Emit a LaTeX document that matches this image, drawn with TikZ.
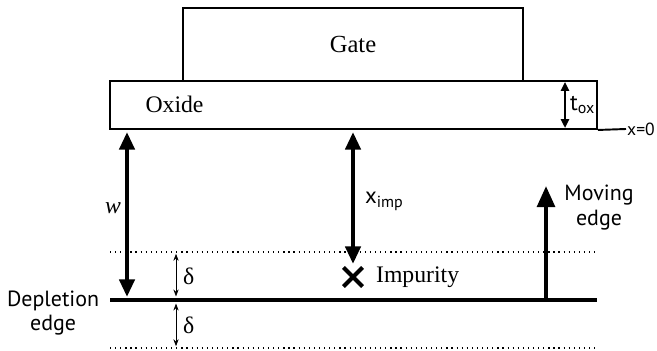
\documentclass[tikz,border=0pt]{standalone}
\usepackage{fontspec}
\setmainfont{Liberation Serif}
\newfontfamily\lab{PT Sans}
\usetikzlibrary{arrows.meta,positioning,shapes.misc}
\tikzset{
	layer/.style={draw,line width=1.1pt,inner sep=0pt},
	bigarrow/.style={line width=2.4pt,{Triangle[length=10pt,width=8.5pt]}-{Triangle[length=10pt,width=8.5pt]}},
	smallarrow/.style={line width=1.3pt,{Triangle[length=5pt,width=4.5pt]}-{Triangle[length=5pt,width=4.5pt]}},
	thinarrow/.style={line width=0.5pt,{Stealth[length=4pt,width=3pt]}-{Stealth[length=4pt,width=3pt]}},
	edgeline/.style={line width=2.2pt},
	dotline/.style={line width=0.7pt,dash pattern=on 0.7pt off 2.2pt},
	sanslabel/.style={font=\lab\fontsize{12.5}{14}\selectfont},
	seriflabel/.style={font=\fontsize{13.5}{15}\selectfont}
}

\begin{document}
\begin{tikzpicture}
			\useasboundingbox (0,0) rectangle (13.14,7.02);
			% gate and oxide
			\node[layer,minimum width=6.8cm,minimum height=1.46cm,font=\fontsize{14}{15}\selectfont] (gate) at (7.06,6.13) {Gate};
			\node[layer,minimum width=9.74cm,minimum height=0.96cm] (oxide) at (7.07,4.92) {};
			\node[seriflabel] (oxidelabel) at (3.49,4.94) {Oxide};
			% x=0
			\coordinate (xzero) at (12.52,4.44);
			\draw[line width=1.1pt] (oxide.south east) -- (xzero);
			\node[anchor=west,inner sep=0.5pt,font=\lab\fontsize{10}{11}\selectfont] (xzerolabel) at (xzero) {x=0};
			% oxide thickness
			\coordinate (toxtop) at (11.30,5.38);
			\coordinate (toxbot) at (11.30,4.46);
			\draw[smallarrow] (toxtop) -- (toxbot);
			\node[anchor=west,inner sep=1pt,font=\lab\fontsize{13}{14}\selectfont] (toxlabel) at (11.36,4.92) {t\textsubscript{ox}};
			% depletion edge and delta band
			\coordinate (depl) at (2.20,1.02);
			\coordinate (depr) at (11.94,1.02);
			\draw[edgeline] (depl) -- (depr);
			\coordinate (dotupl) at (2.20,1.98);
			\coordinate (dotupr) at (11.94,1.98);
			\coordinate (dotlol) at (2.20,0.06);
			\coordinate (dotlor) at (11.94,0.06);
			\draw[dotline] (dotupl) -- (dotupr);
			\draw[dotline] (dotlol) -- (dotlor);
			\node[anchor=east,align=center,sanslabel,inner sep=2pt] (deplabel) at (2.06,0.76) {Depletion\\edge};
			% delta
			\coordinate (dupper) at (3.52,1.98);
			\coordinate (dmid) at (3.52,1.02);
			\coordinate (dlower) at (3.52,0.06);
			\draw[thinarrow] ([yshift=-1pt]dupper) -- ([yshift=2pt]dmid);
			\draw[thinarrow] ([yshift=-2pt]dmid) -- ([yshift=1pt]dlower);
			\node[anchor=west,seriflabel,inner sep=1pt] (deltaup) at (3.62,1.50) {δ};
			\node[anchor=west,seriflabel,inner sep=1pt] (deltalo) at (3.62,0.52) {δ};
			% depletion width
			\coordinate (wtop) at (2.54,4.38);
			\coordinate (wbot) at (2.54,1.08);
			\draw[bigarrow] (wtop) -- (wbot);
			\node[seriflabel] (wlabel) at (2.26,2.86) {\textit{w}};
			% impurity
			\node[cross out,draw,line width=2.3pt,minimum size=0.3cm,inner sep=0pt] (imp) at (7.06,1.48) {};
			\node[anchor=west,seriflabel,inner sep=1pt] (implabel) at (7.48,1.48) {Impurity};
			\coordinate (ximptop) at (7.06,4.38);
			\coordinate (ximpbot) at (7.06,1.74);
			\draw[bigarrow] (ximptop) -- (ximpbot);
			\node[anchor=west,font=\lab\fontsize{13}{14}\selectfont,inner sep=1pt] (ximplabel) at (7.26,3.00) {x\textsubscript{imp}};
			% moving edge
			\coordinate (movebot) at (10.92,1.02);
			\coordinate (movetop) at (10.92,3.30);
			\draw[line width=2.4pt,-{Triangle[length=12pt,width=10pt]}] (movebot) -- (movetop);
			\node[align=center,sanslabel,inner sep=1pt] (movelabel) at (11.98,2.87) {Moving\\edge};
		\end{tikzpicture}
\end{document}
